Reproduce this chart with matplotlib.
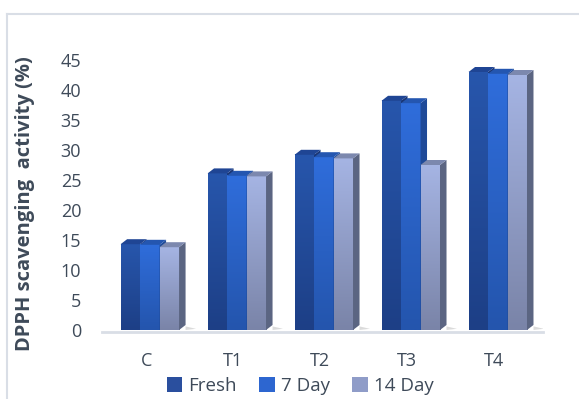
import numpy as np
import matplotlib
matplotlib.use('Agg')
import matplotlib.pyplot as plt
from matplotlib.patches import Polygon, Patch
from matplotlib.lines import Line2D
from matplotlib.colors import LinearSegmentedColormap

plt.rcParams['font.family'] = ['Open Sans', 'DejaVu Sans']

# data
groups = ['C', 'T1', 'T2', 'T3', 'T4']
series = ['Fresh', '7 Day', '14 Day']
fresh = [14.3, 26.1, 29.2, 38.2, 43.0]
day7 = [14.2, 25.7, 28.8, 37.8, 42.7]
day14 = [13.8, 25.6, 28.6, 27.5, 42.5]

# colours: front gradient (top, bottom), side, top face
styles = [
    dict(front=('#2756ac', '#1d3f86'), side='#1a3675', top='#1f4594', legend='#2a4f9e'),
    dict(front=('#2f6ddb', '#2455ad'), side='#1f4a98', top='#2456b0', legend='#2d66d0'),
    dict(front=('#a5b4e3', '#7a84a8'), side='#5b6582', top='#7c88ae', legend='#8f9cc8'),
]
text_col = '#3e4a59'

fig = plt.figure(figsize=(5.79, 3.99), dpi=100)
ax = fig.add_axes([102 / 579, (399 - 330) / 399, 441 / 579, 270 / 399])
ax.set_xlim(-0.55, 4.52)
ax.set_ylim(0, 45)

w = 0.224
dx = 6.5 / 87.0
dy = 5 / 6.0
x = np.arange(len(groups))
values = [fresh, day7, day14]

for i, (vals, st) in enumerate(zip(values, styles)):
    cmap = LinearSegmentedColormap.from_list('g%d' % i, [st['front'][1], st['front'][0]])
    bars = ax.bar(x + (i - 1) * w, vals, w, color=st['front'][1], zorder=3 + i * 3)
    for b in bars:
        x0, x1, h = b.get_x(), b.get_x() + b.get_width(), b.get_height()
        grad = np.linspace(0, 1, 100).reshape(-1, 1)
        ax.imshow(grad, extent=[x0, x1, 0, h], origin='lower', aspect='auto',
                  cmap=cmap, zorder=3 + i * 3, interpolation='bilinear')
        ax.add_patch(Polygon([(x1, 0), (x1 + dx, dy), (x1 + dx, h + dy), (x1, h)],
                             closed=True, facecolor=st['side'], edgecolor='none',
                             zorder=4 + i * 3))
        ax.add_patch(Polygon([(x0, h), (x0 + dx, h + dy), (x1 + dx, h + dy), (x1, h)],
                             closed=True, facecolor=st['top'], edgecolor='none',
                             zorder=4 + i * 3))

# soft floor shadows
for xi in x:
    xs = xi + 1.5 * w + dx
    ax.add_patch(Polygon([(xs, 0), (xs + 0.12, 0.2), (xs, 0.6)], closed=True,
                         facecolor='#9a9a9a', alpha=0.35, edgecolor='none', zorder=2))

# floor line
ax.axhline(-0.3, color='#d9dee6', lw=2, clip_on=False, zorder=1)

ax.set_xticks(x - 0.04)
ax.set_xticklabels(groups)
ax.set_yticks(range(0, 46, 5))
ax.tick_params(axis='both', length=0, labelsize=13, colors=text_col)
ax.tick_params(axis='y', pad=15)
ax.tick_params(axis='x', pad=16)
for s in ax.spines.values():
    s.set_visible(False)

fig.text(25 / 579, 1 - 204 / 399, 'DPPH scavenging  activity (%)', rotation=90,
         ha='center', va='center', fontsize=14.5, fontweight='bold', color=text_col)

handles = [Patch(facecolor=st['legend'], edgecolor='none') for st in styles]
fig.legend(handles, series, loc='center', bbox_to_anchor=(300 / 579, 1 - 386 / 399),
           ncol=3, frameon=False, fontsize=13.5, labelcolor=text_col,
           handlelength=0.85, handleheight=0.85, handletextpad=0.3, columnspacing=1.2)

# chart border (partially visible)
fig.add_artist(Line2D([7 / 579, 1], [1 - 14 / 399, 1 - 14 / 399], color='#d9dee6', lw=1.5))
fig.add_artist(Line2D([7 / 579, 7 / 579], [0, 1 - 14 / 399], color='#d9dee6', lw=1.5))

fig.savefig('out.png', dpi=100)
